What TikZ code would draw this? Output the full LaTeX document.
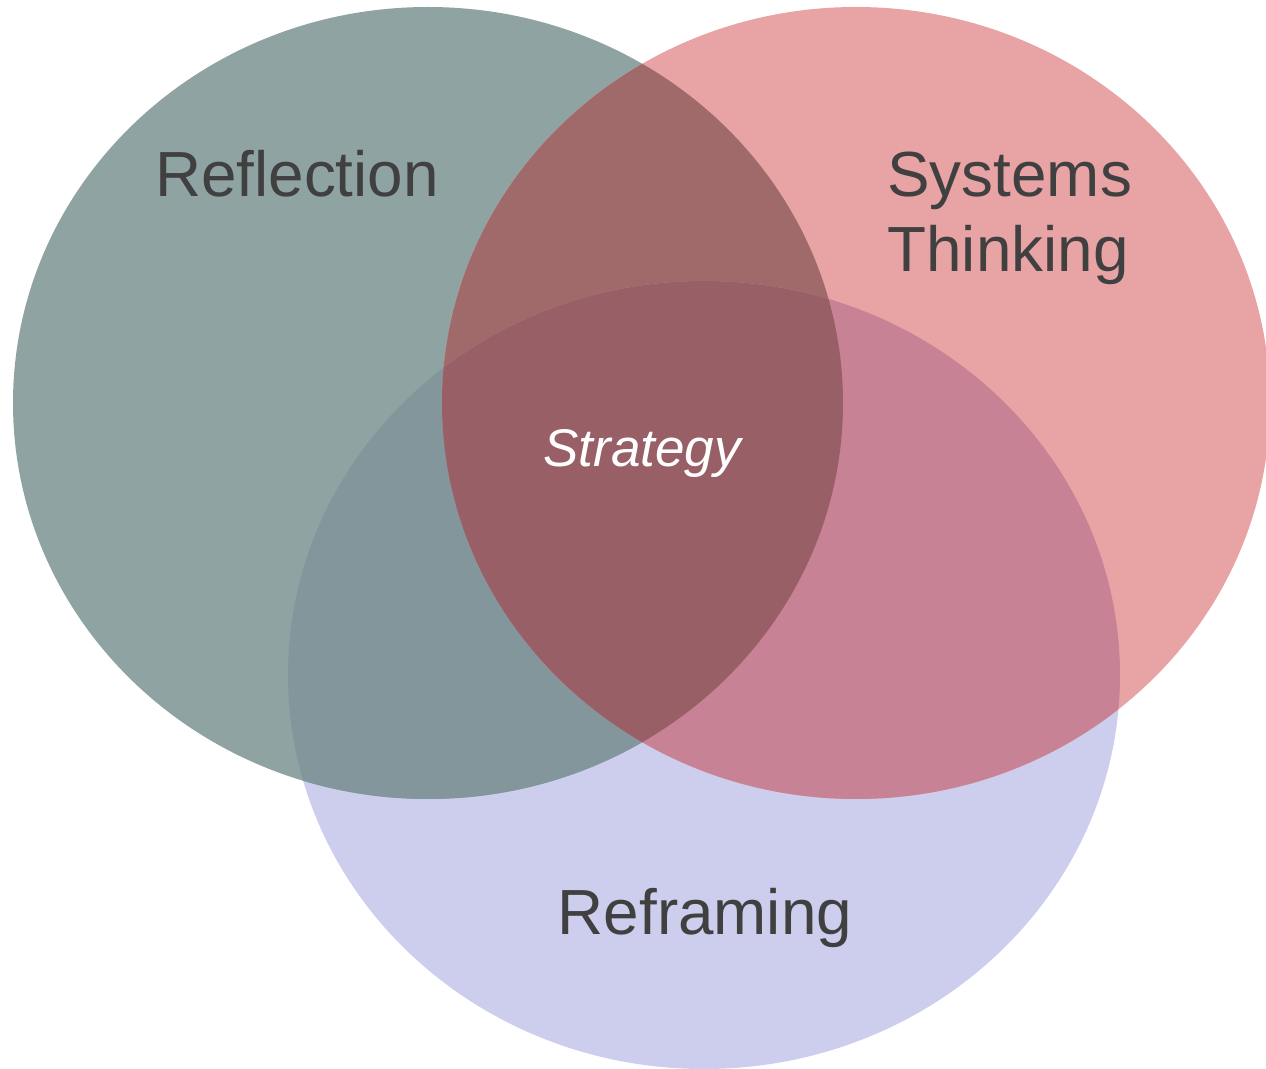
\documentclass[tikz,border=0pt]{standalone}
\usepackage{fontspec}
\setmainfont{Liberation Sans}
\definecolor{cL}{HTML}{8FA3A3}
\definecolor{cR}{HTML}{E8A3A4}
\definecolor{cB}{HTML}{CDCDEE}
\definecolor{cLB}{HTML}{83969C}
\definecolor{cRB}{HTML}{C88296}
\definecolor{cLR}{HTML}{A0696A}
\definecolor{cLRB}{HTML}{985F66}
\definecolor{txt}{HTML}{404040}
\tikzset{
  big/.style={text=txt, font=\fontsize{31.9}{37.5}\selectfont, inner sep=0pt},
  mid/.style={text=white, font=\fontsize{26.5}{31}\selectfont\itshape, inner sep=0pt},
}
\newcommand{\ellL}{(428,403) ellipse [x radius=207.5pt, y radius=198pt]}
\newcommand{\ellR}{(856,403) ellipse [x radius=207pt, y radius=198pt]}
\newcommand{\ellB}{(704,675) ellipse [x radius=208pt, y radius=197pt]}
\begin{document}
\begin{tikzpicture}[x=0.5pt, y=-0.5pt]
\useasboundingbox (0,0) rectangle (1266,1069);
\fill[white] (0,0) rectangle (1266,1069);
% base fills
\fill[cB] \ellB;
\fill[cL] \ellL;
\fill[cR] \ellR;
% pairwise overlaps
\begin{scope}\clip \ellL; \fill[cLR] \ellR; \end{scope}
\begin{scope}\clip \ellL; \fill[cLB] \ellB; \end{scope}
\begin{scope}\clip \ellR; \fill[cRB] \ellB; \end{scope}
% triple overlap
\begin{scope}\clip \ellL; \clip \ellR; \fill[cLRB] \ellB; \end{scope}
% labels
\node[big, anchor=base] (refl) at (297,197) {Reflection};
\node[big, anchor=base west, align=left] (sys) at (887,272) {Systems\\Thinking};
\node[big, anchor=base] (refr) at (705,935) {Reframing};
\node[mid, anchor=base] (strat) at (642,467) {Strategy};
\end{tikzpicture}
\end{document}
